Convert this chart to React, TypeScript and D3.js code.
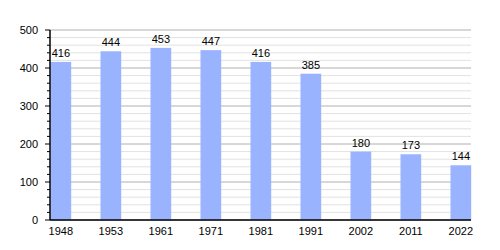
import React from "react";
import * as d3 from "d3";

const years = ["1948", "1953", "1961", "1971", "1981", "1991", "2002", "2011", "2022"];
const values = [416, 444, 453, 447, 416, 385, 180, 173, 144];
const majorTicks = [0, 100, 200, 300, 400, 500];

export default function App() {
  const W = 500, H = 250;
  const left = 50, right = 471, top = 30, bottom = 220;
  const x = d3.scaleBand<string>().domain(years).range([left, left + 50 * years.length]).paddingInner(0).paddingOuter(0);
  const barW = x.bandwidth() * 0.414;
  const y = d3.scaleLinear().domain([0, 500]).range([bottom, top]);
  const minor = d3.range(0, 501, 20).filter((v) => v % 100 !== 0);
  const font = "'Liberation Sans', Arial, sans-serif";
  return (
    <svg width={W} height={H} style={{ position: "absolute", left: 0, top: 0 }} fontFamily={font}>
      <rect width={W} height={H} fill="#fff" />
      {minor.map((v) => (
        <line key={"m" + v} x1={left} x2={right} y1={y(v)} y2={y(v)} stroke="#e2e2e2" strokeWidth={1} />
      ))}
      {majorTicks.map((v) => (
        <line key={"g" + v} x1={left} x2={right} y1={y(v)} y2={y(v)} stroke="#b0b0b0" strokeWidth={1} />
      ))}
      {years.map((yr, i) => (
        <rect key={yr} x={x(yr)! + 0.5} y={y(values[i])} width={barW} height={bottom - y(values[i])} fill="#99b3ff" />
      ))}
      {years.map((yr, i) => (
        <text key={"v" + yr} x={x(yr)! + 0.5 + barW / 2} y={y(values[i]) - 5} textAnchor="middle" fontSize={11} fill="#000">
          {values[i]}
        </text>
      ))}
      <line x1={left} x2={left} y1={top} y2={bottom} stroke="#000" strokeWidth={1.5} />
      <line x1={left} x2={right} y1={bottom} y2={bottom} stroke="#000" strokeWidth={1.5} />
      {minor.map((v) => (
        <line key={"mt" + v} x1={left - 3} x2={left} y1={y(v)} y2={y(v)} stroke="#000" strokeWidth={1} />
      ))}
      {majorTicks.map((v) => (
        <g key={"t" + v}>
          <line x1={left - 5} x2={left} y1={y(v)} y2={y(v)} stroke="#000" strokeWidth={1} />
          <text x={left - 12} y={y(v) + 4} textAnchor="end" fontSize={11} fill="#000">{v}</text>
        </g>
      ))}
      {years.map((yr) => (
        <text key={"x" + yr} x={x(yr)! + 0.5 + barW / 2} y={bottom + 15} textAnchor="middle" fontSize={11} fill="#000">
          {yr}
        </text>
      ))}
    </svg>
  );
}
